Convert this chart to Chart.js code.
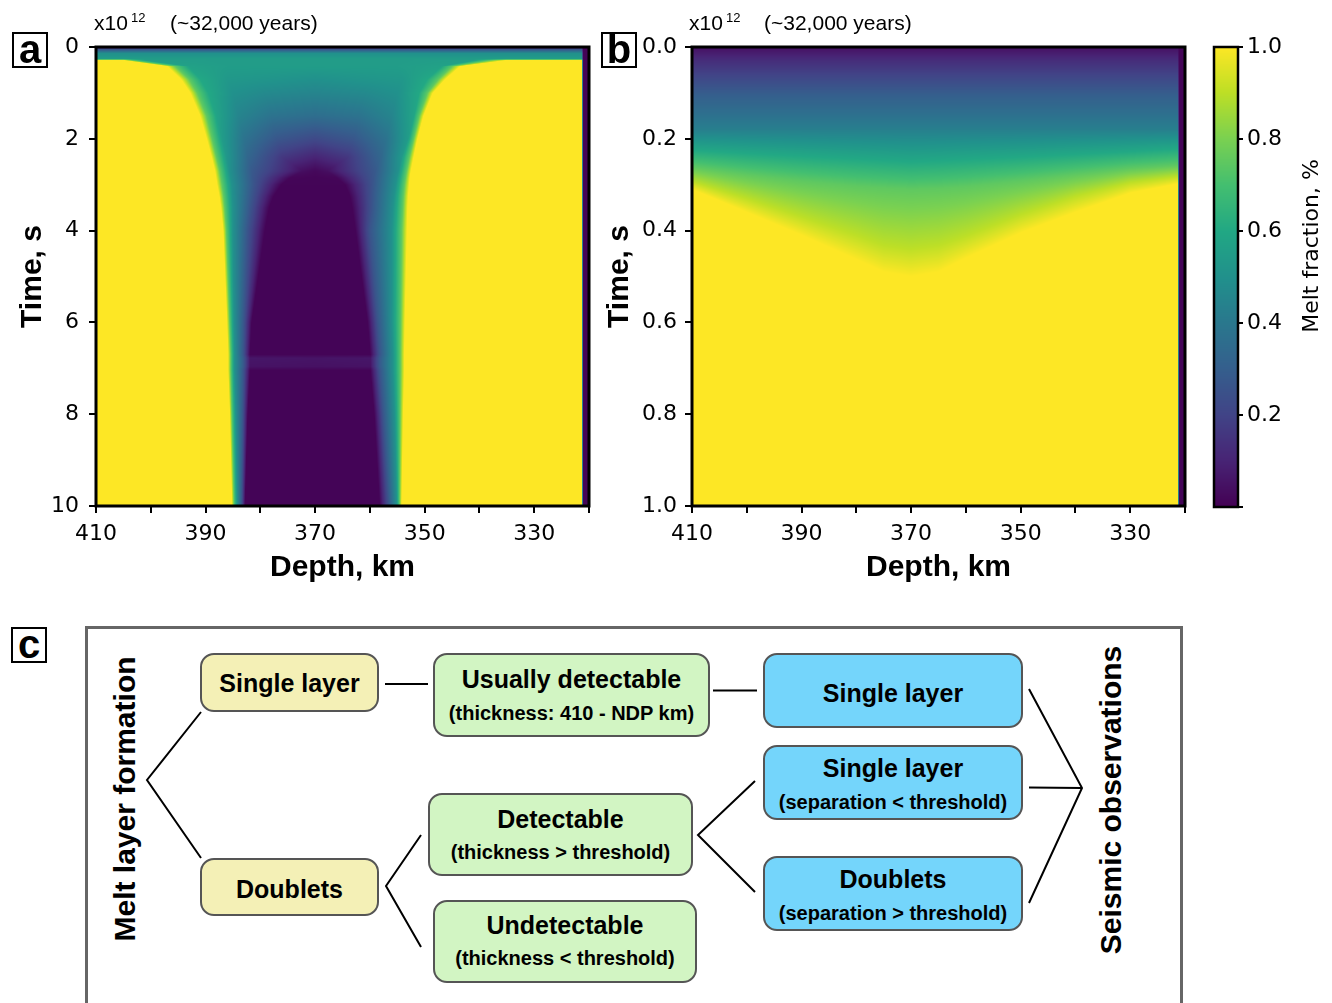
<!DOCTYPE html>
<html><head><meta charset="utf-8">
<script src="https://cdn.jsdelivr.net/npm/chart.js@4.4.0/dist/chart.umd.min.js"></script>
<style>
html,body{margin:0;padding:0;background:#fff;}
body{width:1332px;height:1003px;overflow:hidden;position:relative;font-family:'Liberation Sans',Arial,sans-serif;color:#000;}
canvas{position:absolute;}
.plbl{position:absolute;box-sizing:border-box;border:2px solid #000;width:36px;height:36px;font:bold 40px 'Liberation Sans',Arial,sans-serif;line-height:30px;text-align:center;}
.hdr{position:absolute;font:21px 'Liberation Sans',Arial,sans-serif;line-height:1;white-space:nowrap;}
.sup{position:absolute;font:13px 'Liberation Sans',Arial,sans-serif;line-height:1;}
.rot{position:absolute;white-space:nowrap;line-height:1;transform:translate(-50%,-50%) rotate(-90deg);}
.frame{position:absolute;box-sizing:border-box;border:3px solid #666;left:85px;top:626px;width:1098px;height:420px;}
.box{position:absolute;box-sizing:border-box;border:2px solid #555;border-radius:14px;}
.t{position:absolute;left:0;right:0;text-align:center;font-weight:bold;font-family:'Liberation Sans',Arial,sans-serif;line-height:1;transform:translateY(-50%);white-space:nowrap;}
.t1{font-size:25px;}
.t2{font-size:20px;}
.yel{background:#f4f0b6;}
.grn{background:#d2f5c3;}
.blu{background:#74d5fb;}
</style></head>
<body>
<canvas id="cA" width="600" height="600" style="left:0;top:0"></canvas>
<canvas id="cB" width="610" height="600" style="left:600px;top:0"></canvas>
<canvas id="cC" width="142" height="600" style="left:1190px;top:0"></canvas>

<div class="plbl" style="left:12px;top:32px">a</div>
<div class="plbl" style="left:601px;top:32px">b</div>
<div class="plbl" style="left:11px;top:627px">c</div>

<div class="hdr" style="left:94px;top:12px">x10</div>
<div class="sup" style="left:131px;top:11px">12</div>
<div class="hdr" style="left:170px;top:12px">(~32,000 years)</div>
<div class="hdr" style="left:689px;top:12px">x10</div>
<div class="sup" style="left:726px;top:11px">12</div>
<div class="hdr" style="left:764px;top:12px">(~32,000 years)</div>

<div class="rot" style="left:1310px;top:246px;font:22px 'DejaVu Sans',sans-serif;">Melt fraction, %</div>

<div class="frame"></div>
<div class="rot" style="left:125px;top:799px;font:bold 30px 'Liberation Sans',Arial,sans-serif;">Melt layer formation</div>
<div class="rot" style="left:1111px;top:800px;font:bold 30px 'Liberation Sans',Arial,sans-serif;">Seismic observations</div>

<div class="box yel" style="left:200px;top:653px;width:179px;height:59px"><div class="t t1" style="top:28px">Single layer</div></div>
<div class="box yel" style="left:200px;top:858px;width:179px;height:58px"><div class="t t1" style="top:29px">Doublets</div></div>

<div class="box grn" style="left:433px;top:653px;width:277px;height:84px"><div class="t t1" style="top:24px">Usually detectable</div><div class="t t2" style="top:58px">(thickness: 410 - NDP km)</div></div>
<div class="box grn" style="left:428px;top:793px;width:265px;height:83px"><div class="t t1" style="top:24px">Detectable</div><div class="t t2" style="top:57px">(thickness &gt; threshold)</div></div>
<div class="box grn" style="left:433px;top:900px;width:264px;height:83px"><div class="t t1" style="top:23px">Undetectable</div><div class="t t2" style="top:56px">(thickness &lt; threshold)</div></div>

<div class="box blu" style="left:763px;top:653px;width:260px;height:75px"><div class="t t1" style="top:38px">Single layer</div></div>
<div class="box blu" style="left:763px;top:745px;width:260px;height:75px"><div class="t t1" style="top:21px">Single layer</div><div class="t t2" style="top:55px">(separation &lt; threshold)</div></div>
<div class="box blu" style="left:763px;top:856px;width:260px;height:75px"><div class="t t1" style="top:21px">Doublets</div><div class="t t2" style="top:55px">(separation &gt; threshold)</div></div>

<svg style="position:absolute;left:0;top:0" width="1332" height="1003">
<g stroke="#000" stroke-width="2" fill="none">
<polyline points="201,712 147,780 201,858"/>
<line x1="385" y1="684" x2="428" y2="684"/>
<polyline points="421,835 386,886 421,947"/>
<line x1="713" y1="690.5" x2="757" y2="690.5"/>
<polyline points="755,781 698,835 755,892"/>
<polyline points="1029,689 1082,788 1029,903"/>
<line x1="1029" y1="787.5" x2="1082" y2="788"/>
</g></svg>

<script>
// ================= DATA =================
const depthTickLabels = [410, 390, 370, 350, 330];
const timeTicksA = [0, 2, 4, 6, 8, 10];
const timeTicksB = [0, 0.2, 0.4, 0.6, 0.8, 1.0];
const meltTicks = [0.2, 0.4, 0.6, 0.8, 1.0];

// Panel a: rows of time (x10^12 s); each row = melt fraction profile keyed by depth (km)
const timesA = [0, 0.05, 0.14, 0.26, 0.29, 0.42, 0.7, 1.0, 1.5, 2.0, 2.4, 2.7, 2.85, 3.0, 3.25, 3.5, 4.0, 6.0, 6.7, 6.78, 6.96, 7.04, 8.0, 10.0];
const depthKeysA = [
  [410, 405, 403.5, 401, 390, 380, 370, 360, 352, 341, 338, 335, 321.3, 321.1, 320],
  [410, 405, 403.5, 401, 390, 380, 370, 360, 352, 341, 338, 335, 321.3, 321.1, 320],
  [410, 405, 403.5, 401, 390, 380, 370, 360, 352, 341, 338, 335, 321.3, 321.1, 320],
  [410, 405, 403.5, 401, 390, 380, 370, 360, 352, 341, 338, 335, 321.3, 321.1, 320],
  [410, 405, 403.5, 401, 390, 380, 370, 360, 352, 341, 338, 335, 321.3, 321.1, 320],
  [410, 397, 395.5, 393, 386, 378, 370, 362, 355, 347, 345, 343.5, 321.3, 321.1, 320],
  [410, 394.5, 393, 391, 386, 380, 370, 360, 354, 349.5, 347.5, 346.2, 321.3, 321.1, 320],
  [410, 392.8, 391.5, 389.5, 385, 379, 370, 361, 355, 351, 349.5, 348.5, 321.3, 321.1, 320],
  [410, 391, 389.8, 388, 384, 378, 370, 362, 356, 352, 351, 350.2, 321.3, 321.1, 320],
  [410, 389.8, 388.8, 387, 383, 377, 370, 363, 357, 353, 352, 351.3, 321.3, 321.1, 320],
  [410, 388.9, 388, 386.2, 382.3, 376, 370, 364, 358, 354.2, 352.8, 352, 321.3, 321.1, 320],
  [410, 388.3, 387.4, 385.6, 381.6, 372.3, 370, 367.8, 359, 354.8, 353.3, 352.5, 321.3, 321.1, 320],
  [410, 388.1, 387.2, 385.4, 381.4, 374.6, 370, 366, 359.3, 355.1, 353.5, 352.7, 321.3, 321.1, 320],
  [410, 387.9, 387, 385.2, 381.2, 376.2, 370, 364.5, 359.5, 355.3, 353.7, 352.8, 321.3, 321.1, 320],
  [410, 387.5, 386.7, 385.1, 381.5, 377.6, 370, 363.6, 359.6, 355.6, 353.9, 353, 321.3, 321.1, 320],
  [410, 387.2, 386.5, 385, 381.8, 378.4, 370, 363.2, 359.6, 355.8, 354, 353.1, 321.3, 321.1, 320],
  [410, 386.8, 386.2, 385, 382.3, 379.2, 370, 362.6, 360, 356, 354.2, 353.2, 321.3, 321.1, 320],
  [410, 386.1, 385.6, 384.8, 383, 381.6, 370, 360.4, 358.6, 356, 354.4, 353.6, 321.3, 321.1, 320],
  [410, 385.9, 385.4, 384.7, 383.1, 381.9, 370, 359.9, 358.2, 355.8, 354.45, 353.7, 321.3, 321.1, 320],
  [410, 385.9, 385.4, 384.7, 383.1, 381.9, 370, 359.9, 358.2, 355.8, 354.45, 353.7, 321.3, 321.1, 320],
  [410, 385.9, 385.4, 384.7, 383.1, 381.9, 370, 359.9, 358.2, 355.8, 354.45, 353.7, 321.3, 321.1, 320],
  [410, 385.9, 385.4, 384.7, 383.1, 381.9, 370, 359.9, 358.2, 355.8, 354.45, 353.7, 321.3, 321.1, 320],
  [410, 385.6, 385.2, 384.5, 383.2, 382.3, 370, 359.2, 357.6, 355.5, 354.5, 353.9, 321.3, 321.1, 320],
  [410, 385.2, 384.8, 384.2, 383.4, 382.8, 370, 358.2, 356.6, 355.1, 354.6, 354.2, 321.3, 321.1, 320]
];
const meltKeysA = [
  [0.05, 0.05, 0.05, 0.05, 0.05, 0.05, 0.05, 0.05, 0.05, 0.05, 0.05, 0.05, 0.05, 0.01, 0.01],
  [0.25, 0.25, 0.25, 0.25, 0.25, 0.25, 0.25, 0.25, 0.25, 0.25, 0.25, 0.25, 0.25, 0.01, 0.01],
  [0.5, 0.5, 0.5, 0.5, 0.5, 0.5, 0.5, 0.5, 0.5, 0.5, 0.5, 0.5, 0.5, 0.01, 0.01],
  [0.55, 0.55, 0.55, 0.55, 0.55, 0.55, 0.55, 0.55, 0.55, 0.55, 0.55, 0.55, 0.55, 0.01, 0.01],
  [1, 1, 0.75, 0.56, 0.55, 0.55, 0.55, 0.55, 0.55, 0.56, 0.75, 1, 1, 0.01, 0.01],
  [1, 1, 0.75, 0.57, 0.55, 0.55, 0.55, 0.55, 0.55, 0.57, 0.75, 1, 1, 0.01, 0.01],
  [1, 1, 0.75, 0.6, 0.53, 0.52, 0.5, 0.52, 0.53, 0.6, 0.75, 1, 1, 0.01, 0.01],
  [1, 1, 0.75, 0.6, 0.5, 0.47, 0.45, 0.47, 0.5, 0.6, 0.75, 1, 1, 0.01, 0.01],
  [1, 1, 0.75, 0.58, 0.45, 0.38, 0.36, 0.38, 0.45, 0.58, 0.75, 1, 1, 0.01, 0.01],
  [1, 1, 0.75, 0.55, 0.38, 0.27, 0.22, 0.27, 0.38, 0.55, 0.75, 1, 1, 0.01, 0.01],
  [1, 1, 0.75, 0.53, 0.33, 0.16, 0.1, 0.16, 0.33, 0.53, 0.75, 1, 1, 0.01, 0.01],
  [1, 1, 0.75, 0.5, 0.28, 0.04, 0.02, 0.04, 0.28, 0.5, 0.75, 1, 1, 0.01, 0.01],
  [1, 1, 0.75, 0.5, 0.27, 0.015, 0.01, 0.015, 0.27, 0.5, 0.75, 1, 1, 0.01, 0.01],
  [1, 1, 0.75, 0.5, 0.26, 0.01, 0.01, 0.01, 0.26, 0.5, 0.75, 1, 1, 0.01, 0.01],
  [1, 1, 0.75, 0.5, 0.26, 0.01, 0.01, 0.01, 0.26, 0.5, 0.75, 1, 1, 0.01, 0.01],
  [1, 1, 0.75, 0.5, 0.26, 0.01, 0.01, 0.01, 0.26, 0.5, 0.75, 1, 1, 0.01, 0.01],
  [1, 1, 0.75, 0.5, 0.26, 0.01, 0.01, 0.01, 0.26, 0.5, 0.75, 1, 1, 0.01, 0.01],
  [1, 1, 0.75, 0.5, 0.26, 0.01, 0.01, 0.01, 0.26, 0.5, 0.75, 1, 1, 0.01, 0.01],
  [1, 1, 0.75, 0.5, 0.26, 0.01, 0.01, 0.01, 0.26, 0.5, 0.75, 1, 1, 0.01, 0.01],
  [1, 1, 0.75, 0.5, 0.28, 0.06, 0.055, 0.06, 0.28, 0.5, 0.75, 1, 1, 0.01, 0.01],
  [1, 1, 0.75, 0.5, 0.28, 0.05, 0.045, 0.05, 0.28, 0.5, 0.75, 1, 1, 0.01, 0.01],
  [1, 1, 0.75, 0.5, 0.26, 0.01, 0.01, 0.01, 0.26, 0.5, 0.75, 1, 1, 0.01, 0.01],
  [1, 1, 0.75, 0.5, 0.26, 0.01, 0.01, 0.01, 0.26, 0.5, 0.75, 1, 1, 0.01, 0.01],
  [1, 1, 0.75, 0.5, 0.26, 0.01, 0.01, 0.01, 0.26, 0.5, 0.75, 1, 1, 0.01, 0.01]
];

// Panel b: columns of depth (km); each column = melt fraction profile keyed by time (x10^12 s)
const depthsB = [410, 400, 390, 380, 375, 370, 365, 360, 350, 340, 330, 321.3, 321.1, 320];
const timeKeysB = [
  [0, 0.03, 0.07, 0.105, 0.142, 0.18, 0.225, 0.262, 0.293, 0.31, 1],
  [0, 0.03, 0.07, 0.105, 0.142, 0.18, 0.232, 0.278, 0.33, 0.36, 1],
  [0, 0.03, 0.07, 0.105, 0.142, 0.18, 0.238, 0.292, 0.37, 0.41, 1],
  [0, 0.03, 0.07, 0.105, 0.142, 0.18, 0.244, 0.303, 0.41, 0.463, 1],
  [0, 0.03, 0.07, 0.105, 0.142, 0.18, 0.247, 0.307, 0.432, 0.49, 1],
  [0, 0.03, 0.07, 0.105, 0.142, 0.18, 0.25, 0.31, 0.44, 0.5, 1],
  [0, 0.03, 0.07, 0.105, 0.142, 0.18, 0.248, 0.308, 0.432, 0.49, 1],
  [0, 0.03, 0.07, 0.105, 0.142, 0.18, 0.245, 0.304, 0.412, 0.46, 1],
  [0, 0.03, 0.07, 0.105, 0.142, 0.18, 0.24, 0.292, 0.365, 0.405, 1],
  [0, 0.03, 0.07, 0.105, 0.142, 0.18, 0.234, 0.278, 0.325, 0.36, 1],
  [0, 0.03, 0.07, 0.105, 0.142, 0.18, 0.228, 0.265, 0.295, 0.318, 1],
  [0, 0.03, 0.07, 0.105, 0.142, 0.18, 0.222, 0.258, 0.282, 0.298, 1],
  [0, 0.03, 0.07, 0.105, 0.142, 0.18, 0.222, 0.258, 0.282, 0.298, 1],
  [0, 0.03, 0.07, 0.105, 0.142, 0.18, 0.222, 0.258, 0.282, 0.298, 1]
];
const meltKeysB = [
  [0.04, 0.13, 0.22, 0.30, 0.36, 0.43, 0.6, 0.75, 0.9, 1, 1],
  [0.04, 0.13, 0.22, 0.30, 0.36, 0.43, 0.6, 0.75, 0.9, 1, 1],
  [0.04, 0.13, 0.22, 0.30, 0.36, 0.43, 0.6, 0.75, 0.9, 1, 1],
  [0.04, 0.13, 0.22, 0.30, 0.36, 0.43, 0.6, 0.75, 0.9, 1, 1],
  [0.04, 0.13, 0.22, 0.30, 0.36, 0.43, 0.6, 0.75, 0.9, 1, 1],
  [0.04, 0.13, 0.22, 0.30, 0.36, 0.43, 0.6, 0.75, 0.9, 1, 1],
  [0.04, 0.13, 0.22, 0.30, 0.36, 0.43, 0.6, 0.75, 0.9, 1, 1],
  [0.04, 0.13, 0.22, 0.30, 0.36, 0.43, 0.6, 0.75, 0.9, 1, 1],
  [0.04, 0.13, 0.22, 0.30, 0.36, 0.43, 0.6, 0.75, 0.9, 1, 1],
  [0.04, 0.13, 0.22, 0.30, 0.36, 0.43, 0.6, 0.75, 0.9, 1, 1],
  [0.04, 0.13, 0.22, 0.30, 0.36, 0.43, 0.6, 0.75, 0.9, 1, 1],
  [0.04, 0.13, 0.22, 0.30, 0.36, 0.43, 0.6, 0.75, 0.9, 1, 1],
  [0.01, 0.01, 0.01, 0.01, 0.01, 0.01, 0.01, 0.01, 0.01, 0.01, 0.01],
  [0.01, 0.01, 0.01, 0.01, 0.01, 0.01, 0.01, 0.01, 0.01, 0.01, 0.01]
];

// ================= RENDERING =================
const VIR = [[68,1,84],[72,36,117],[65,68,135],[53,95,141],[42,120,142],[33,145,140],[34,168,132],[68,191,112],[122,209,81],[189,223,38],[253,231,37]];
function viridis(v){
  v = Math.max(0, Math.min(1, v));
  const p = v * 10, i = Math.min(9, Math.floor(p)), f = p - i, a = VIR[i], b = VIR[i+1];
  return [a[0]+(b[0]-a[0])*f, a[1]+(b[1]-a[1])*f, a[2]+(b[2]-a[2])*f];
}
function segIndex(arr, v){
  const n = arr.length, asc = arr[n-1] > arr[0];
  for (let i = 0; i < n-2; i++) { if (asc ? v < arr[i+1] : v > arr[i+1]) return i; }
  return n-2;
}
function lerpRow(coords, keys, vals, r){
  const i = segIndex(coords, r), d = coords[i+1]-coords[i];
  let f = d ? (r-coords[i])/d : 0; f = Math.max(0, Math.min(1, f));
  return [keys[i].map((c,j)=>c+(keys[i+1][j]-c)*f), vals[i].map((c,j)=>c+(vals[i+1][j]-c)*f)];
}
function evalProfile(kc, kv, k){
  const j = segIndex(kc, k), d = kc[j+1]-kc[j];
  let f = d ? (k-kc[j])/d : 0; f = Math.max(0, Math.min(1, f));
  return kv[j]+(kv[j+1]-kv[j])*f;
}
function heatPlugin(rowAxis, rowCoords, keyCoords, keyVals){
  return {
    id: 'heat',
    beforeDatasetsDraw(chart){
      const {ctx, chartArea: a, scales: {x, y}} = chart;
      const L = Math.round(a.left), T = Math.round(a.top), W = Math.round(a.right)-L, H = Math.round(a.bottom)-T;
      const off = document.createElement('canvas'); off.width = W; off.height = H;
      const octx = off.getContext('2d'), img = octx.createImageData(W, H), d = img.data;
      const put = (px, py, v) => { const c = viridis(v), o = (py*W+px)*4; d[o]=c[0]; d[o+1]=c[1]; d[o+2]=c[2]; d[o+3]=255; };
      if (rowAxis === 'y') {
        for (let py = 0; py < H; py++) {
          const [kc, kv] = lerpRow(rowCoords, keyCoords, keyVals, y.getValueForPixel(T+py+0.5));
          for (let px = 0; px < W; px++) put(px, py, evalProfile(kc, kv, x.getValueForPixel(L+px+0.5)));
        }
      } else {
        for (let px = 0; px < W; px++) {
          const [kc, kv] = lerpRow(rowCoords, keyCoords, keyVals, x.getValueForPixel(L+px+0.5));
          for (let py = 0; py < H; py++) put(px, py, evalProfile(kc, kv, y.getValueForPixel(T+py+0.5)));
        }
      }
      octx.putImageData(img, 0, 0);
      ctx.drawImage(off, L, T);
    },
    afterDatasetsDraw(chart){
      const {ctx, chartArea: a} = chart;
      ctx.save(); ctx.strokeStyle = '#000'; ctx.lineWidth = 3;
      ctx.strokeRect(a.left, a.top, a.right-a.left, a.bottom-a.top); ctx.restore();
    }
  };
}
const colorbarPlugin = {
  id: 'cbar',
  beforeDatasetsDraw(chart){
    const {ctx, chartArea: a, scales: {y}} = chart;
    for (let py = Math.round(a.top); py < Math.round(a.bottom); py++) {
      const c = viridis(y.getValueForPixel(py+0.5));
      ctx.fillStyle = `rgb(${c[0]|0},${c[1]|0},${c[2]|0})`;
      ctx.fillRect(a.left, py, a.right-a.left, 1);
    }
    ctx.save(); ctx.strokeStyle = '#000'; ctx.lineWidth = 2.5;
    ctx.strokeRect(a.left, a.top, a.right-a.left, a.bottom-a.top); ctx.restore();
  }
};

const tickFont = {family: 'DejaVu Sans', size: 22};
const titleFont = {family: 'Liberation Sans', size: 30, weight: 'bold'};
const gridOpt = {drawOnChartArea: false, drawTicks: true, tickLength: 7, tickWidth: 2, lineWidth: 2, tickColor: '#000', color: '#000'};

function heatConfig(opt){
  return {
    type: 'scatter',
    data: {datasets: []},
    options: {
      responsive: false, animation: false, devicePixelRatio: 1, events: [],
      layout: {padding: opt.padding},
      plugins: {legend: {display: false}, tooltip: {enabled: false}},
      scales: {
        x: {type: 'linear', min: 320, max: 410, reverse: true,
          afterFit(s){ s.height = 84; },
          ticks: {stepSize: 10, autoSkip: false, maxRotation: 0, padding: 8, color: '#000', font: tickFont,
            callback: v => depthTickLabels.includes(v) ? String(v) : ''},
          grid: gridOpt, border: {display: false},
          title: {display: true, text: 'Depth, km', color: '#000', font: titleFont, padding: {top: 0, bottom: 4}}},
        y: {type: 'linear', min: 0, max: opt.yMax, reverse: true,
          afterFit(s){ s.width = opt.yWidth; },
          ticks: {stepSize: opt.yStep, autoSkip: false, padding: opt.yPad, color: '#000', font: tickFont, callback: opt.yFmt},
          grid: gridOpt, border: {display: false},
          title: {display: true, text: 'Time, s', color: '#000', font: titleFont, padding: {top: opt.yTitlePad, bottom: 0}}}
      }
    },
    plugins: [opt.plugin]
  };
}

new Chart(document.getElementById('cA'), heatConfig({
  padding: {left: 0, right: 11, top: 47, bottom: 10}, yMax: 10, yStep: 2, yWidth: 96, yPad: 10, yTitlePad: 15,
  yFmt: v => timeTicksA.includes(v) ? String(v) : '',
  plugin: heatPlugin('y', timesA, depthKeysA, meltKeysA)
}));
new Chart(document.getElementById('cB'), heatConfig({
  padding: {left: 0, right: 25, top: 47, bottom: 10}, yMax: 1, yStep: 0.2, yWidth: 92, yPad: 8, yTitlePad: 2,
  yFmt: v => timeTicksB.some(t => Math.abs(t - v) < 1e-6) ? v.toFixed(1) : '',
  plugin: heatPlugin('x', depthsB, timeKeysB, meltKeysB)
}));
new Chart(document.getElementById('cC'), {
  type: 'scatter', data: {datasets: []},
  options: {
    responsive: false, animation: false, devicePixelRatio: 1, events: [],
    layout: {padding: {left: 24, right: 0, top: 47, bottom: 93}},
    plugins: {legend: {display: false}, tooltip: {enabled: false}},
    scales: {
      x: {display: false, min: 0, max: 1},
      y: {position: 'right', min: 0, max: 1, afterFit(s){ s.width = 94; },
        ticks: {stepSize: 0.2, padding: 4, color: '#000', font: tickFont,
          callback: v => meltTicks.some(t => Math.abs(t - v) < 1e-6) ? v.toFixed(1) : ''},
        grid: {drawOnChartArea: false, drawTicks: true, tickLength: 5, tickWidth: 2, lineWidth: 2, tickColor: '#000'},
        border: {display: false}}
    }
  },
  plugins: [colorbarPlugin]
});
</script>
</body></html>
